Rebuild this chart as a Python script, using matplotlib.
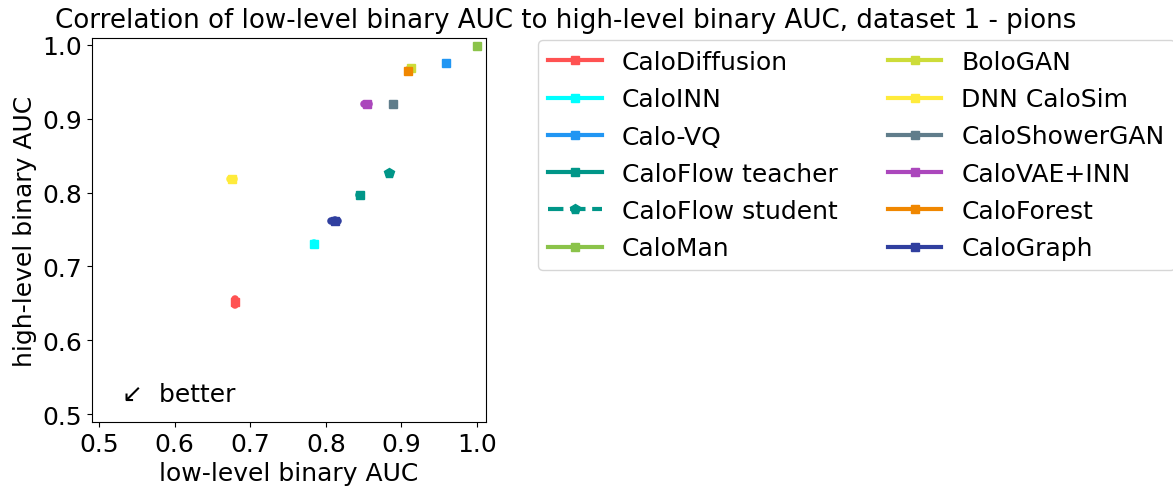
import matplotlib
matplotlib.use("Agg")
import matplotlib.pyplot as plt
from matplotlib.lines import Line2D

# values
models = ["CaloDiffusion", "CaloINN", "Calo-VQ", "CaloFlow teacher", "CaloFlow student",
          "CaloMan", "BoloGAN", "DNN CaloSim", "CaloShowerGAN", "CaloVAE+INN",
          "CaloForest", "CaloGraph"]
low_auc = [0.680, 0.785, 0.959, 0.845, 0.884, 1.000, 0.913, 0.676, 0.889, 0.854, 0.909, 0.812]
low_err = [0.0003, 0.0003, 0.0003, 0.0008, 0.0003, 0.0003, 0.0003, 0.0025, 0.0003, 0.003, 0.0003, 0.0045]
high_auc = [0.652, 0.731, 0.975, 0.796, 0.826, 0.998, 0.968, 0.818, 0.920, 0.920, 0.965, 0.762]
high_err = [0.0045, 0.0005, 0.0003, 0.0008, 0.0003, 0.0003, 0.0005, 0.0003, 0.0003, 0.0003, 0.0008, 0.0003]
colors = ["#FF5252", "#00FFFF", "#2196F3", "#009688", "#009688", "#8BC34A",
          "#CDDC39", "#FFEB3B", "#607D8B", "#AB47BC", "#F08700", "#303F9F"]

plt.rcParams["font.size"] = 18

fig = plt.figure(figsize=(11.73, 4.89), dpi=100)
ax = fig.add_axes([92 / 1173, 1 - 423 / 489, 394 / 1173, 384 / 489])

handles = []
for name, x, xe, y, ye, c in zip(models, low_auc, low_err, high_auc, high_err, colors):
    student = name == "CaloFlow student"
    mk = "p" if student else "s"
    eb = ax.errorbar(x, y, xerr=xe, yerr=ye, fmt=mk, color=c, elinewidth=5.5,
                     ms=7 if student else 6, capsize=0)
    for coll in eb[2]:
        coll.set_capstyle("round")
    handles.append(Line2D([], [], color=c, lw=3, ls="--" if student else "-",
                          marker=mk, ms=7 if student else 6, label=name))

ax.text(0.53, 0.527, "↙  better", va="center", ha="left")

ax.set_xlim(0.4905, 1.012)
ax.set_ylim(0.4896, 1.009)
ax.set_xticks([0.5, 0.6, 0.7, 0.8, 0.9, 1.0])
ax.set_yticks([0.5, 0.6, 0.7, 0.8, 0.9, 1.0])
ax.set_xlabel("low-level binary AUC")
ax.set_ylabel("high-level binary AUC")

fig.text(566 / 1173, 1 - 8 / 489,
         "Correlation of low-level binary AUC to high-level binary AUC, dataset 1 - pions",
         ha="center", va="top", fontsize=18.8)

fig.legend(handles=handles, loc="upper left", bbox_to_anchor=(538 / 1173, 1 - 41 / 489),
           ncol=2, borderaxespad=0, handlelength=2.15, labelspacing=0.53)

fig.savefig("out.png", dpi=100)
